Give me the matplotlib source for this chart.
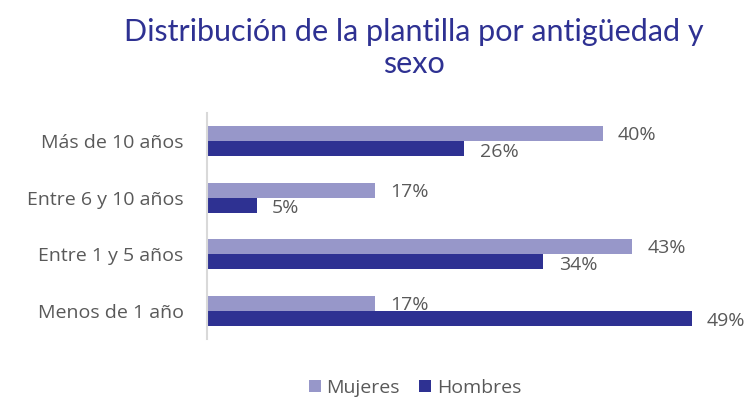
import matplotlib.pyplot as plt
import numpy as np

categories = ['Más de 10 años', 'Entre 6 y 10 años', 'Entre 1 y 5 años', 'Menos de 1 año']
mujeres = [40, 17, 43, 17]
hombres = [26, 5, 34, 49]

plt.rcParams['font.family'] = ['Open Sans', 'DejaVu Sans']

fig = plt.figure(figsize=(7.56, 4.04), dpi=100)
ax = fig.add_axes([0.274, 0.161, 0.654, 0.559])

y = np.arange(len(categories))[::-1]
h = 0.265
ax.barh(y + h / 2, mujeres, height=h, color='#9797C9', label='Mujeres')
ax.barh(y - h / 2, hombres, height=h, color='#2E3192', label='Hombres')

for yi, v in zip(y, mujeres):
    ax.annotate(f'{v}%', (v, yi + h / 2), xytext=(11, -1), textcoords='offset points',
                va='center', ha='left', fontsize=14, color='#595959')
for yi, v in zip(y, hombres):
    ax.annotate(f'{v}%', (v, yi - h / 2), xytext=(11, -2), textcoords='offset points',
                va='center', ha='left', fontsize=14, color='#595959')

ax.set_xlim(0, 50)
ax.set_ylim(-0.5, 3.5)
ax.set_yticks(y)
ax.set_yticklabels(categories, fontsize=14, color='#595959')
ax.set_xticks([])
ax.tick_params(axis='y', length=0, pad=17)
for s in ['top', 'right', 'bottom']:
    ax.spines[s].set_visible(False)
ax.spines['left'].set_color('#D9D9D9')
ax.spines['left'].set_linewidth(1.5)

fig.text(0.547, 0.922, 'Distribución de la plantilla por antigüedad y', ha='center', va='center',
         fontsize=22, color='#2E3192', family=['Lato', 'DejaVu Sans'])
fig.text(0.547, 0.842, 'sexo', ha='center', va='center', fontsize=22, color='#2E3192',
         family=['Lato', 'DejaVu Sans'])

fig.legend(loc='center', bbox_to_anchor=(0.549, 0.04), ncol=2, frameon=False, fontsize=14,
           handlelength=0.6, handleheight=0.6, handletextpad=0.3, columnspacing=1.0,
           labelcolor='#595959')

fig.savefig('out.png', dpi=100)
